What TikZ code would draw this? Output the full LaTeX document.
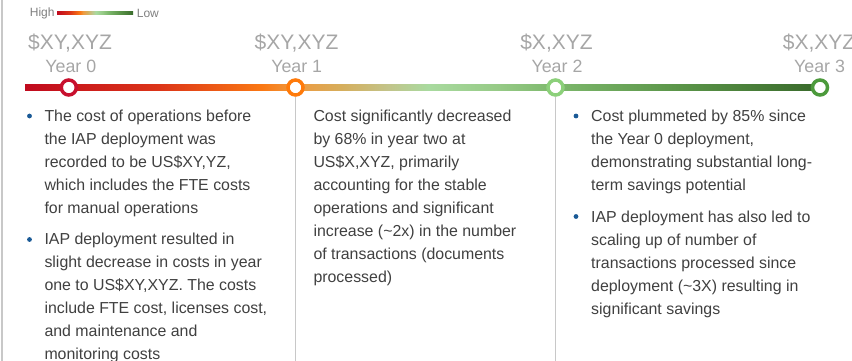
\documentclass[tikz,border=0pt]{standalone}
\usepackage{fontspec}
\setmainfont{Liberation Sans}
\usetikzlibrary{positioning}

\definecolor{bodygrey}{HTML}{404040}
\definecolor{softgrey}{HTML}{A6A6A6}
\definecolor{keygrey}{HTML}{7F7F7F}
\definecolor{rulegrey}{HTML}{C8C8C8}
\definecolor{dotblue}{HTML}{1A5A96}
\definecolor{cbA}{HTML}{C00A1E}
\definecolor{cbB}{HTML}{DC3518}
\definecolor{cbC}{HTML}{FA7814}
\definecolor{cbD}{HTML}{EE9A40}
\definecolor{cbE}{HTML}{D6AE5C}
\definecolor{cbF}{HTML}{C2C48A}
\definecolor{cbG}{HTML}{A9DA9F}
\definecolor{cbH}{HTML}{96CA86}
\definecolor{cbI}{HTML}{7DB86C}
\definecolor{cbJ}{HTML}{5A9448}
\definecolor{cbK}{HTML}{3A6B2C}
\definecolor{ringred}{HTML}{C8102E}
\definecolor{ringorange}{HTML}{FF7A0A}
\definecolor{ringlight}{HTML}{8CD07A}
\definecolor{ringgreen}{HTML}{4C9A3C}

\pgfdeclarehorizontalshading{costbar}{100bp}{color(0bp)=(cbA); color(25bp)=(cbA);
  color(33.5bp)=(cbB); color(40bp)=(cbC); color(42.2bp)=(cbD); color(45bp)=(cbE);
  color(48bp)=(cbF); color(50.5bp)=(cbG); color(55bp)=(cbH); color(58.5bp)=(cbI);
  color(66.5bp)=(cbJ); color(75bp)=(cbK); color(100bp)=(cbK)}

\tikzset{
  gradbar/.style = {shading=costbar, inner sep=0pt, minimum height=#1},
  ring/.style = {circle, draw=#1, line width=3.5pt, fill=white, minimum size=15pt, inner sep=0pt},
  amount/.style = {anchor=base, inner sep=0pt, text=softgrey, font=\fontsize{21}{24}\selectfont},
  yearlbl/.style = {anchor=base, inner sep=0pt, text=softgrey, font=\fontsize{17.8}{21}\selectfont},
  keylbl/.style = {inner sep=0pt, text=keygrey, font=\fontsize{12}{14}\selectfont},
  note/.style = {anchor=north west, inner sep=0pt, align=left, text=bodygrey, font=\fontsize{15.9}{23}\selectfont},
  sepline/.style = {draw=rulegrey, line width=1.2pt},
  dot/.style = {fill=dotblue}
}

\begin{document}
\begin{tikzpicture}[x=1pt, y=-1pt]
  \useasboundingbox (0,0) rectangle (852,361);
  \clip (0,0) rectangle (852,361);
  \draw[sepline] (2,0) -- (2,361);
  \coordinate (floor) at (0,361);
  % legend
  \node[gradbar=3.4pt, minimum width=76pt] (key) at (95,13) {};
  \node[keylbl, left=2pt of key] (high) {High};
  \node[keylbl, right=3.5pt of key] (low) {Low};
  % timeline
  \node[gradbar=6.4pt, minimum width=790pt] (bar) at (420,87.5) {};
  \node[ring=ringred] (ring0) at (68.8,87.5) {};
  \node[ring=ringorange] (ring1) at (295.5,87.5) {};
  \node[ring=ringlight] (ring2) at (555.5,87.5) {};
  \node[ring=ringgreen] (ring3) at (820,87.5) {};
  \draw[sepline] (ring1) -- (ring1 |- floor);
  \draw[sepline] (ring2) -- (ring2 |- floor);
  % labels
  \node[amount] (amt0) at (70,49.3) {\$XY,XYZ};
  \node[amount] (amt1) at (296.5,49.3) {\$XY,XYZ};
  \node[amount] (amt2) at (556.5,49.3) {\$X,XYZ};
  \node[amount] (amt3) at (819,49.3) {\$X,XYZ};
  \node[yearlbl] (yr0) at (70.8,72.7) {Year 0};
  \node[yearlbl] (yr1) at (296.7,72.7) {Year 1};
  \node[yearlbl] (yr2) at (557,72.7) {Year 2};
  \node[yearlbl] (yr3) at (819.5,72.7) {Year 3};
  % notes
  \node[note] (note0a) at (44.3,109.3) {The cost of operations before\\the IAP deployment was\\recorded to be US\$XY,YZ,\\which includes the FTE costs\\for manual operations};
  \node[note] (note0b) at (44.3,232.6) {IAP deployment resulted in\\slight decrease in costs in year\\one to US\$XY,XYZ. The costs\\include FTE cost, licenses cost,\\and maintenance and\\monitoring costs};
  \node[note] (note1) at (313.3,109.3) {Cost significantly decreased\\by 68\% in year two at\\US\$X,XYZ, primarily\\accounting for the stable\\operations and significant\\increase (\textasciitilde 2x) in the number\\of transactions (documents\\processed)};
  \node[note] (note2a) at (591,109.3) {Cost plummeted by 85\% since\\the Year 0 deployment,\\demonstrating substantial long-\\term savings potential};
  \node[note] (note2b) at (591,210.3) {IAP deployment has also led to\\scaling up of number of\\transactions processed since\\deployment (\textasciitilde 3X) resulting in\\significant savings};
  \fill[dot] (29.5,116) circle (2.4pt);
  \fill[dot] (29.5,239.5) circle (2.4pt);
  \fill[dot] (576,116) circle (2.4pt);
  \fill[dot] (576,216.5) circle (2.4pt);
\end{tikzpicture}
\end{document}
